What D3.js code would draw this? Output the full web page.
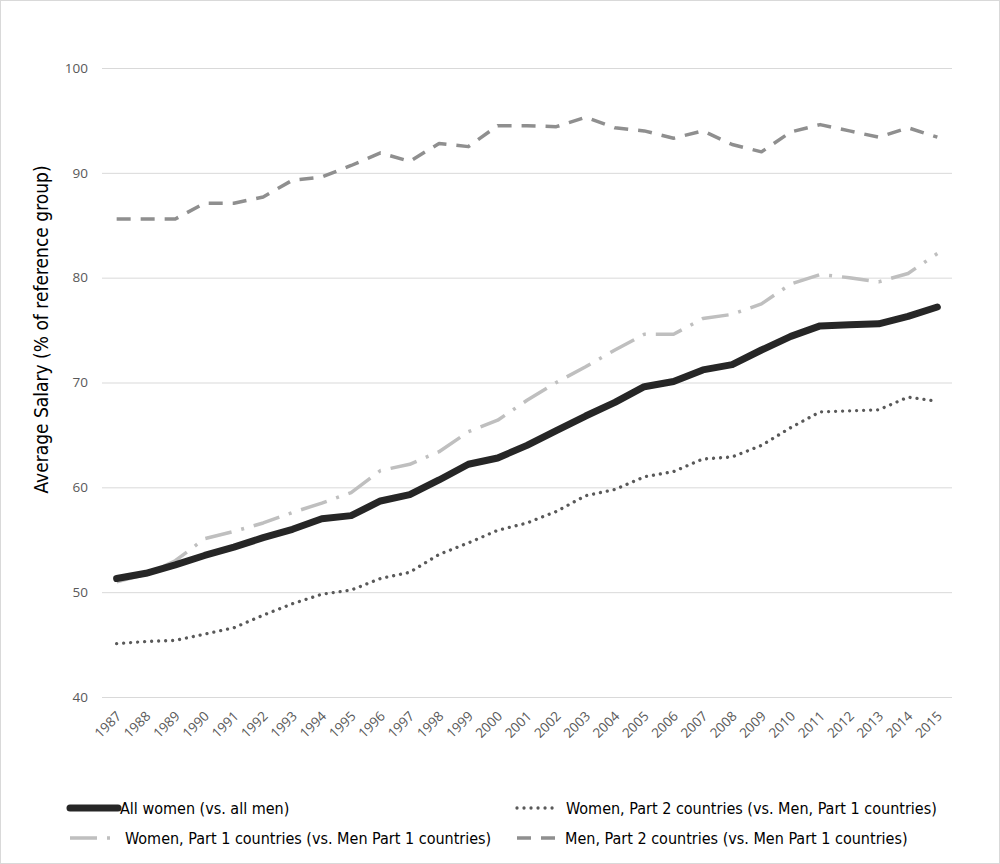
<!DOCTYPE html>
<html>
<head>
<meta charset="utf-8">
<script src="https://cdn.jsdelivr.net/npm/d3@7/dist/d3.min.js"></script>
<style>
  body { margin: 0; background: #fff; }
  .tick-label { font-family: "Open Sans", sans-serif; font-size: 13.5px; fill: #595959; }
  .title { font-family: "Liberation Sans Narrow", "DejaVu Sans", sans-serif; font-stretch: condensed; font-size: 19px; fill: #000; }
  .legend-text { font-family: "Liberation Sans Narrow", "DejaVu Sans", sans-serif; font-stretch: condensed; font-size: 16px; fill: #000; }
</style>
</head>
<body>
<div id="chart"></div>
<script>
const years = d3.range(1987, 2016);
const yTicks = [40, 50, 60, 70, 80, 90, 100];

const allWomen = [51.3, 51.8, 52.6, 53.5, 54.3, 55.2, 56.0, 57.0, 57.3, 58.7, 59.3, 60.7, 62.2, 62.8,
  64.0, 65.4, 66.8, 68.1, 69.6, 70.1, 71.2, 71.7, 73.1, 74.4, 75.4, 75.5, 75.6, 76.3, 77.2];
const womenPart1 = [51.0, 51.7, 53.0, 55.1, 55.8, 56.6, 57.6, 58.5, 59.5, 61.6, 62.2, 63.4, 65.3, 66.4,
  68.3, 70.0, 71.5, 73.1, 74.6, 74.6, 76.1, 76.5, 77.5, 79.4, 80.3, 80.0, 79.6, 80.4, 82.3];
const womenPart2 = [45.1, 45.3, 45.4, 46.0, 46.6, 47.8, 48.9, 49.8, 50.2, 51.3, 51.9, 53.6, 54.7, 55.9,
  56.6, 57.7, 59.2, 59.8, 61.0, 61.5, 62.7, 62.9, 64.0, 65.7, 67.2, 67.3, 67.4, 68.6, 68.2];
const menPart2 = [85.6, 85.6, 85.6, 87.1, 87.1, 87.7, 89.3, 89.6, 90.7, 91.9, 91.1, 92.8, 92.5, 94.5,
  94.5, 94.4, 95.3, 94.3, 94.0, 93.3, 94.0, 92.7, 92.0, 93.9, 94.6, 94.0, 93.4, 94.3, 93.4];

const series = [
  { name: "Men, Part 2 countries (vs. Men Part 1 countries)", values: menPart2,
    color: "#8f8f8f", width: 3.5, dash: "14 10", cap: "butt" },
  { name: "Women, Part 2 countries (vs. Men, Part 1 countries)", values: womenPart2,
    color: "#595959", width: 3.3, dash: "0.01 7", cap: "round" },
  { name: "Women, Part 1 countries (vs. Men Part 1 countries)", values: womenPart1,
    color: "#bfbfbf", width: 3.5, dash: "27 10 3 10", cap: "butt" },
  { name: "All women (vs. all men)", values: allWomen,
    color: "#262626", width: 7, dash: null, cap: "round" }
];

const W = 1000, H = 864;
const m = { top: 68, right: 48, bottom: 167, left: 102 };

const svg = d3.select("#chart").append("svg").attr("width", W).attr("height", H);

svg.append("rect")
  .attr("x", 0.5).attr("y", 0.5)
  .attr("width", W - 1).attr("height", H - 1)
  .attr("fill", "#fff").attr("stroke", "#d9d9d9");

const x = d3.scalePoint().domain(years).range([m.left, W - m.right]).padding(0.5);
const y = d3.scaleLinear().domain([40, 100]).range([H - m.bottom, m.top]);

// gridlines + y labels
const yAxis = d3.axisLeft(y).tickValues(yTicks).tickSize(-(W - m.left - m.right)).tickPadding(14);
const gy = svg.append("g").attr("transform", `translate(${m.left},0)`).call(yAxis);
gy.select(".domain").remove();
gy.selectAll("line").attr("stroke", "#d9d9d9").attr("stroke-width", 1);
gy.selectAll("text").attr("class", "tick-label").attr("fill", null);

// x labels
const xAxis = d3.axisBottom(x).tickSize(0).tickPadding(0);
const gx = svg.append("g").attr("transform", `translate(0,${H - m.bottom})`).call(xAxis);
gx.select(".domain").remove();
gx.selectAll("text")
  .attr("class", "tick-label")
  .attr("fill", null)
  .attr("text-anchor", "end")
  .attr("y", 0).attr("dy", 0)
  .attr("transform", "translate(5,20) rotate(-45)");

svg.append("text")
  .attr("class", "title")
  .attr("text-anchor", "middle")
  .attr("transform", `translate(48,${(y(40) + y(100)) / 2 - 53}) rotate(-90)`)
  .text("Average Salary (% of reference group)");

const line = d3.line()
  .x((d, i) => x(years[i]))
  .y(d => y(d));

svg.selectAll(".series")
  .data(series)
  .join("path")
  .attr("class", "series")
  .attr("fill", "none")
  .attr("stroke", d => d.color)
  .attr("stroke-width", d => d.width)
  .attr("stroke-dasharray", d => d.dash)
  .attr("stroke-linecap", d => d.cap)
  .attr("stroke-linejoin", "round")
  .attr("d", d => line(d.values));

// legend
const legendItems = [
  { s: series[3], x: 70, y: 808, len: 48, gap: 2 },
  { s: series[1], x: 517, y: 808, len: 42, gap: 7 },
  { s: series[2], x: 70, y: 838, len: 44, gap: 11 },
  { s: series[0], x: 517, y: 838, len: 42, gap: 6 }
];

const lg = svg.append("g");
legendItems.forEach(it => {
  lg.append("line")
    .attr("x1", it.x).attr("x2", it.x + it.len)
    .attr("y1", it.y).attr("y2", it.y)
    .attr("stroke", it.s.color)
    .attr("stroke-width", it.s.width)
    .attr("stroke-dasharray", it.s.dash)
    .attr("stroke-linecap", it.s.cap);
  lg.append("text")
    .attr("class", "legend-text")
    .attr("x", it.x + it.len + it.gap)
    .attr("y", it.y)
    .attr("dy", "0.35em")
    .text(it.s.name);
});
</script>
</body>
</html>
